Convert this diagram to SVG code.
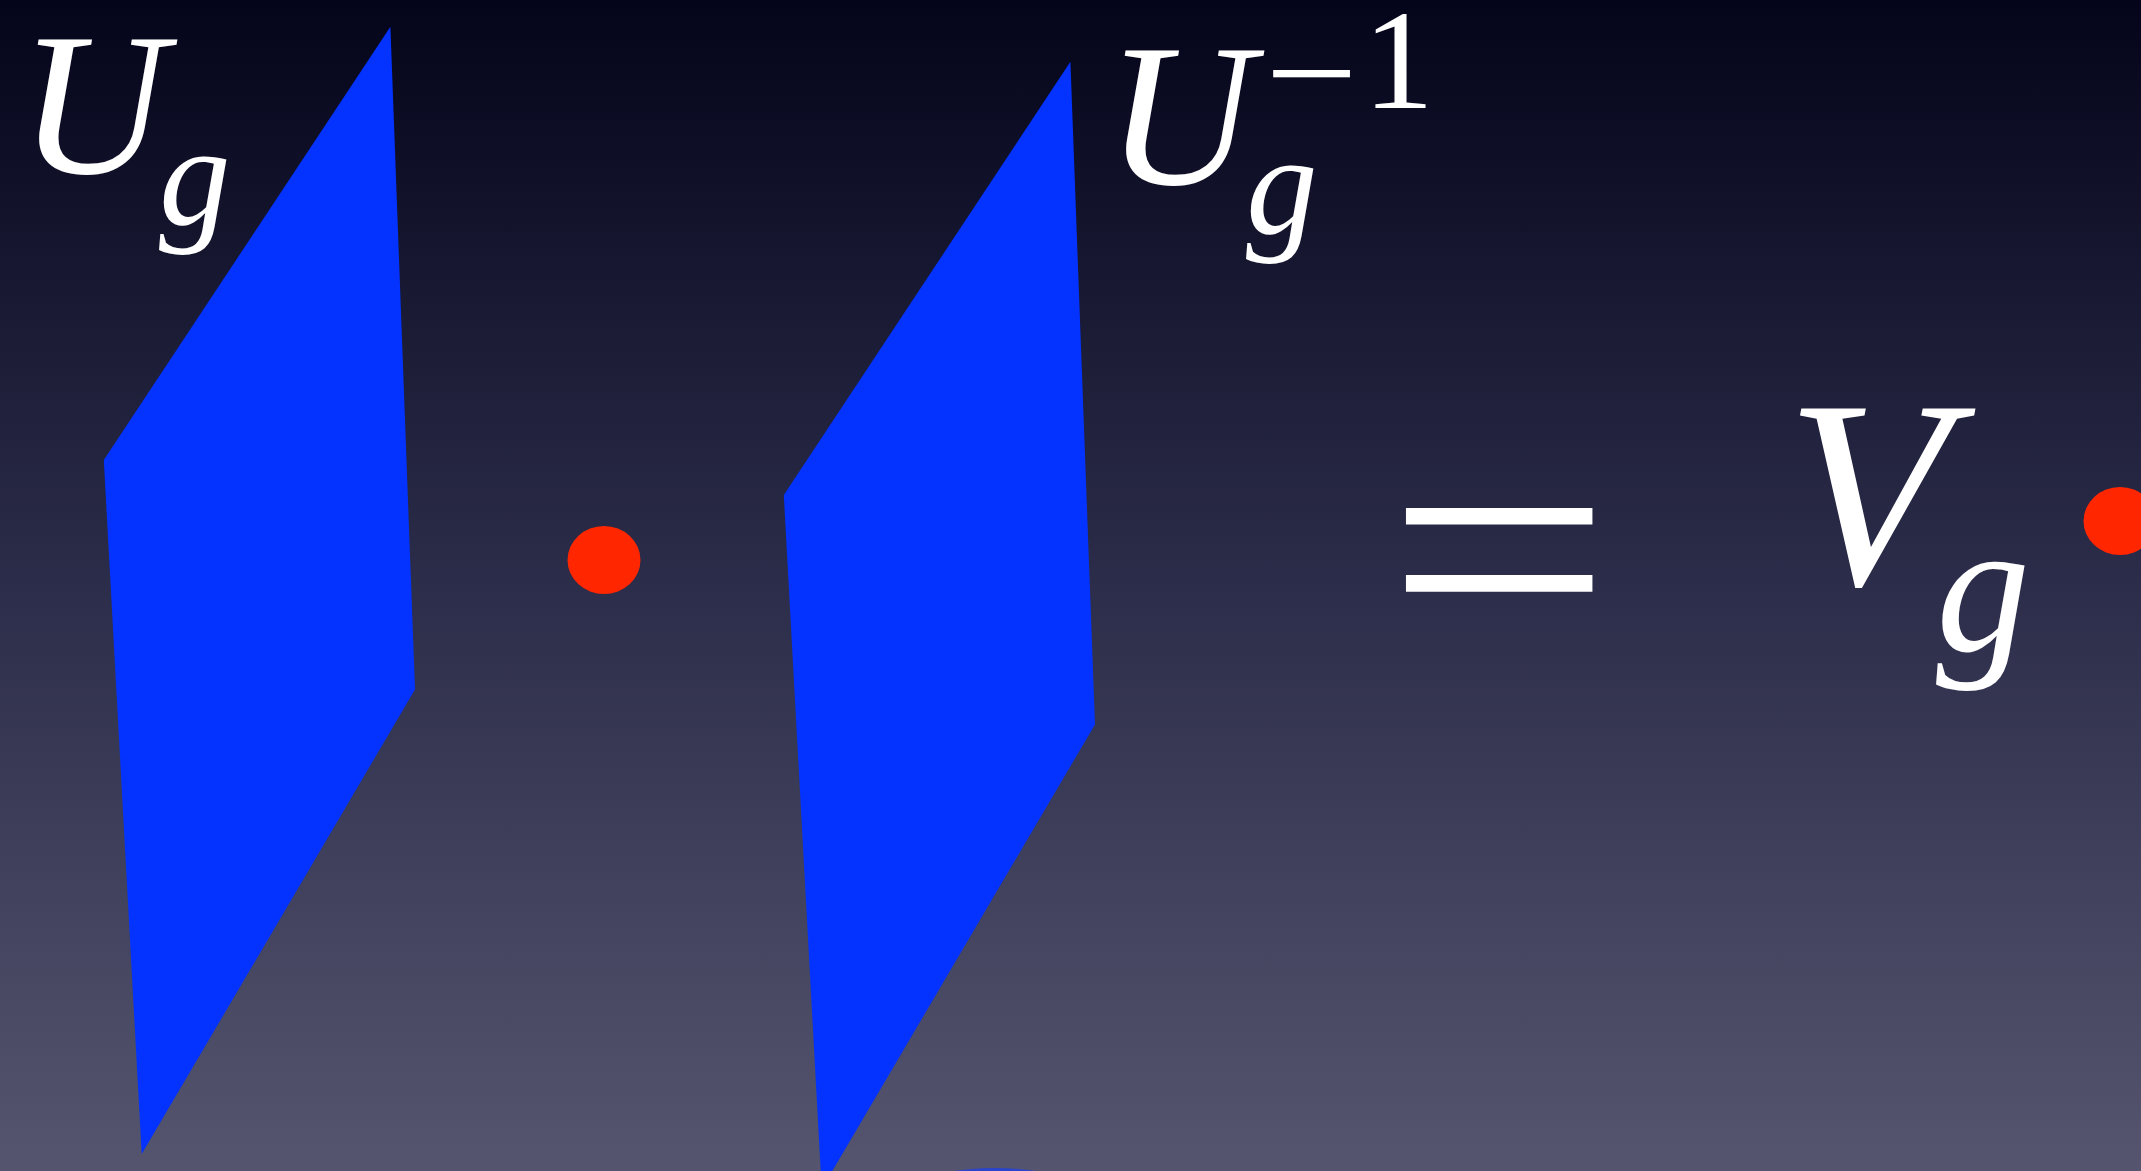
<svg xmlns="http://www.w3.org/2000/svg" width="2141" height="1171" viewBox="0 0 2141 1171">
<defs>
<linearGradient id="bg" x1="0" y1="0" x2="0" y2="1">
<stop offset="0" stop-color="#04041a"/>
<stop offset="0.5" stop-color="#2c2d4a"/>
<stop offset="1" stop-color="#55556f"/>
</linearGradient>
<style>
.m{font-family:"Liberation Serif","Times New Roman",serif;font-style:italic;fill:#ffffff}
.r{font-family:"Liberation Serif","Times New Roman",serif;fill:#ffffff}
.plane{fill:#0433ff}
.dot{fill:#ff2600}
</style>
</defs>
<rect x="0" y="0" width="2141" height="1171" fill="url(#bg)"/>
<g id="plane1"><polygon class="plane" points="390.4,26.7 103.8,460 141.7,1154 415,689.5"/></g>
<g id="plane2"><polygon class="plane" points="1070.4,61.7 783.8,495 821.7,1189 1095,724.5"/></g>
<g id="bottom-dot"><ellipse cx="995" cy="1228" rx="130" ry="60" fill="#2a44cc"/></g>
<g id="dot1"><ellipse class="dot" cx="604" cy="560" rx="36.5" ry="34"/></g>
<g id="dot2"><ellipse class="dot" cx="2120" cy="521" rx="36.5" ry="34"/></g>
<g id="label-Ug">
<text class="m" x="19" y="173" font-size="204">U</text>
<text class="m" x="159" y="224" font-size="143">g</text>
</g>
<g id="label-Ug-inv">
<text class="m" x="1106" y="184" font-size="204">U</text>
<text class="m" x="1246" y="233" font-size="143">g</text>
<text class="r" x="1265" y="121" font-size="142" textLength="93" lengthAdjust="spacingAndGlyphs">−</text>
<text class="r" x="1363" y="108" font-size="142">1</text>
</g>
<g id="equals"><text class="r" x="1386" y="661" font-size="335" textLength="226" lengthAdjust="spacingAndGlyphs">=</text></g>
<g id="label-Vg">
<text class="m" x="1786" y="584" font-size="268">V</text>
<text class="m" x="1936" y="651" font-size="188">g</text>
</g>
</svg>
